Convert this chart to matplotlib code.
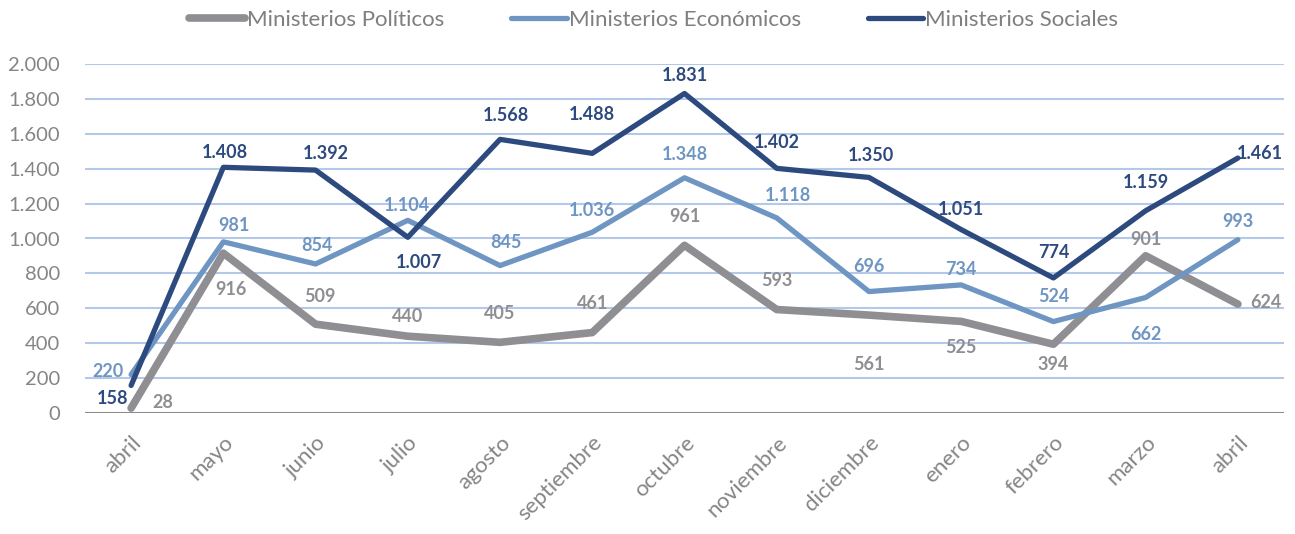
import matplotlib
matplotlib.use("Agg")
import matplotlib.pyplot as plt
from matplotlib.ticker import FuncFormatter

plt.rcParams['font.family'] = ['Lato', 'DejaVu Sans']

months = ["abril", "mayo", "junio", "julio", "agosto", "septiembre", "octubre",
          "noviembre", "diciembre", "enero", "febrero", "marzo", "abril"]
politicos = [28, 916, 509, 440, 405, 461, 961, 593, 561, 525, 394, 901, 624]
economicos = [220, 981, 854, 1104, 845, 1036, 1348, 1118, 696, 734, 524, 662, 993]
sociales = [158, 1408, 1392, 1007, 1568, 1488, 1831, 1402, 1350, 1051, 774, 1159, 1461]
yticks = [0, 200, 400, 600, 800, 1000, 1200, 1400, 1600, 1800, 2000]

# label offsets in pixels (dx, dy)
off_soc = [(-19, -13), (2, 15), (10, 17), (11, -25), (6, 24), (0, 39), (0, 18),
           (0, 26), (2, 22), (0, 20), (0, 25), (0, 28), (22, 5)]
off_eco = [(-23, 3), (11, 16), (1, 18), (-1, 15), (6, 23), (0, 22), (0, 23),
           (11, 22), (0, 25), (0, 15), (0, 25), (0, -37), (0, 18)]
off_pol = [(32, 6), (8, -36), (4, 28), (0, 20), (0, 29), (0, 29), (0, 29),
           (0, 29), (0, -49), (0, -26), (0, -20), (0, 16), (28, 2)]

c_pol = "#8F8F93"
c_eco = "#6F96C3"
c_soc = "#2D4A7E"

fig = plt.figure(figsize=(12.95, 5.34), dpi=100)
ax = fig.add_axes([85/1295, 1-413/534, (1284-85)/1295, (413-64)/534])

x = list(range(len(months)))
ax.set_xlim(-0.5, len(months) - 0.5)
ax.set_ylim(0, 2000)

for yv in yticks[1:]:
    ax.axhline(yv, color="#B4C8EA", lw=1.5, zorder=0)
ax.axhline(0, color="#8C8C8C", lw=1.5, zorder=1)

l1, = ax.plot(x, politicos, color=c_pol, lw=5.5, solid_capstyle="round", solid_joinstyle="round", zorder=2, label="Ministerios Políticos")
l2, = ax.plot(x, economicos, color=c_eco, lw=3.8, solid_capstyle="round", solid_joinstyle="round", zorder=3, label="Ministerios Económicos")
l3, = ax.plot(x, sociales, color=c_soc, lw=3.8, solid_capstyle="round", solid_joinstyle="round", zorder=4, label="Ministerios Sociales")

def fmt(v):
    return f"{v:,}".replace(",", ".")

for vals, offs, col in [(politicos, off_pol, c_pol), (economicos, off_eco, c_eco), (sociales, off_soc, c_soc)]:
    for xi, v, (dx, dy) in zip(x, vals, offs):
        ax.annotate(fmt(v), (xi, v), xytext=(dx, dy), textcoords="offset pixels",
                    ha="center", va="center", color=col, fontsize=13,
                    fontweight="bold", zorder=5)

ax.set_yticks(yticks)
ax.yaxis.set_major_formatter(FuncFormatter(lambda v, p: fmt(int(v))))
ax.set_xticks(x)
ax.set_xticklabels(months, rotation=45, ha="right", rotation_mode="anchor")
ax.tick_params(axis="both", length=0, labelcolor="#858585")
ax.tick_params(axis="y", pad=18, labelsize=14.5)
ax.tick_params(axis="x", pad=14, labelsize=16)
for s in ax.spines.values():
    s.set_visible(False)

leg = fig.legend(handles=[l1, l2, l3], loc="center", bbox_to_anchor=(0.505, 1-20/534),
           ncol=3, frameon=False, fontsize=16, handlelength=2.5,
           handletextpad=0.1, columnspacing=3.0, labelcolor="#7F7F7F")

fig.savefig("out.png", dpi=100)
